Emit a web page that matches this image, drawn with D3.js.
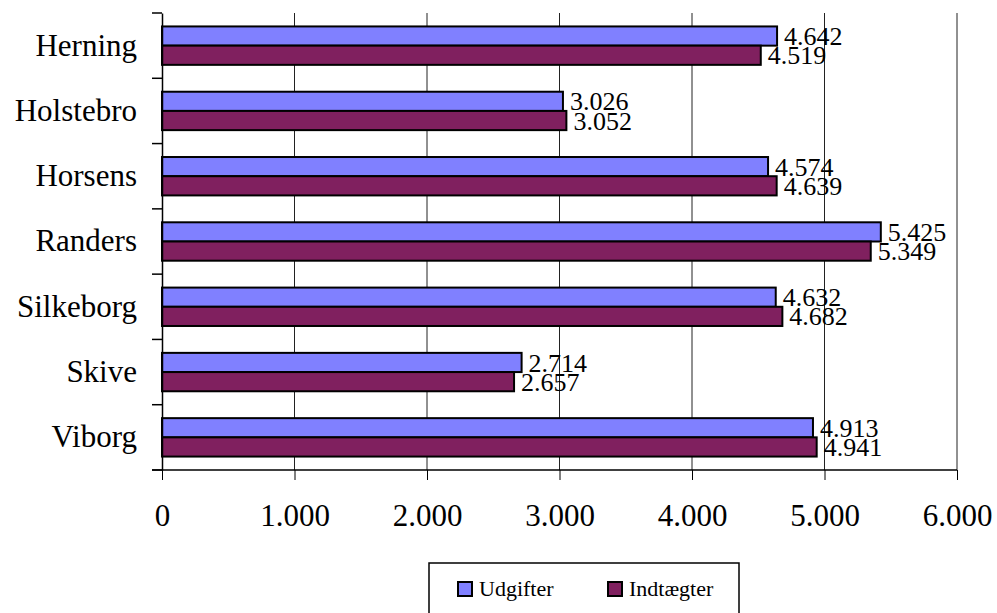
<!DOCTYPE html>
<html>
<head>
<meta charset="utf-8">
<script src="https://cdn.jsdelivr.net/npm/d3@7"></script>
<style>
  body { margin: 0; background: #fff; }
  svg { display: block; font-family: "Liberation Serif", "Times New Roman", serif; }
</style>
</head>
<body>
<div id="chart"></div>
<script>
var categories = ["Herning", "Holstebro", "Horsens", "Randers", "Silkeborg", "Skive", "Viborg"];
var seriesNames = ["Udgifter", "Indtægter"];
var udgifter = [4642, 3026, 4574, 5425, 4632, 2714, 4913];
var indtaegter = [4519, 3052, 4639, 5349, 4682, 2657, 4941];
var xTicks = [0, 1000, 2000, 3000, 4000, 5000, 6000];
var seriesColors = ["#8080ff", "#80205f"];

var width = 997,
  height = 613;
var margin = { top: 13, right: 40, bottom: 143, left: 162 };
var serif = "'Liberation Serif', 'Times New Roman', serif";

var locale = d3.formatLocale({ decimal: ",", thousands: ".", grouping: [3], currency: ["", ""] });
var fmt = locale.format(",");

var rows = categories.map(function (c, i) {
  return { name: c, values: [udgifter[i], indtaegter[i]] };
});

var svg = d3.select("#chart").append("svg").attr("width", width).attr("height", height);

var x = d3.scaleLinear([0, 6000], [margin.left, 957]);
var y = d3.scaleBand(categories, [margin.top, height - margin.bottom]);
var ySub = d3.scaleBand([0, 1], [0, y.bandwidth()]).paddingOuter(0.7);

// gridlines
svg
  .append("g")
  .selectAll("line")
  .data(xTicks.slice(1))
  .join("line")
  .attr("x1", function (d) { return x(d); })
  .attr("x2", function (d) { return x(d); })
  .attr("y1", margin.top)
  .attr("y2", height - margin.bottom)
  .attr("stroke", "#222")
  .attr("stroke-width", 1);

// bars
var group = svg
  .append("g")
  .selectAll("g")
  .data(rows)
  .join("g")
  .attr("transform", function (d) { return "translate(0," + y(d.name) + ")"; });

group
  .selectAll("rect")
  .data(function (d) { return d.values; })
  .join("rect")
  .attr("x", x(0))
  .attr("y", function (d, i) { return ySub(i); })
  .attr("width", function (d) { return x(d) - x(0); })
  .attr("height", ySub.bandwidth())
  .attr("fill", function (d, i) { return seriesColors[i]; })
  .attr("stroke", "#000")
  .attr("stroke-width", 2);

group
  .selectAll("text")
  .data(function (d) { return d.values; })
  .join("text")
  .attr("x", function (d) { return x(d) + 7; })
  .attr("y", function (d, i) { return ySub(i) + ySub.bandwidth() / 2; })
  .attr("dy", "0.35em")
  .attr("font-size", 26)
  .text(function (d) { return fmt(d); });

// y axis
var yAxis = d3
  .axisLeft(y)
  .tickSize(0)
  .tickPadding(25);
svg
  .append("g")
  .attr("transform", "translate(" + margin.left + ",0)")
  .call(yAxis)
  .attr("font-family", serif)
  .attr("font-size", 31)
  .call(function (g) {
    g.select(".domain").attr("stroke", "#000").attr("stroke-width", 1.5);
    g.selectAll("text").attr("fill", "#000").attr("dy", "0.32em");
  });

// category separator ticks
svg
  .append("g")
  .selectAll("line")
  .data(categories.concat(["end"]))
  .join("line")
  .attr("x1", margin.left - 10)
  .attr("x2", margin.left)
  .attr("y1", function (d, i) { return margin.top + i * y.step(); })
  .attr("y2", function (d, i) { return margin.top + i * y.step(); })
  .attr("stroke", "#000")
  .attr("stroke-width", 1.5);

// x axis
var xAxis = d3
  .axisBottom(x)
  .tickValues(xTicks)
  .tickSize(10)
  .tickPadding(24)
  .tickFormat(fmt);
svg
  .append("g")
  .attr("transform", "translate(0," + (height - margin.bottom) + ")")
  .call(xAxis)
  .attr("font-family", serif)
  .attr("font-size", 31)
  .call(function (g) {
    g.select(".domain").attr("d", "M" + (margin.left - 10) + ",0H" + x(6000)).attr("stroke", "#000").attr("stroke-width", 1.5);
    g.selectAll("line").attr("stroke", "#000");
    g.selectAll("text").attr("fill", "#000");
  });

// legend
var legend = svg.append("g").attr("transform", "translate(429,563)");
legend
  .append("rect")
  .attr("width", 310)
  .attr("height", 70)
  .attr("fill", "#fff")
  .attr("stroke", "#000")
  .attr("stroke-width", 1.5);
var item = legend
  .selectAll("g")
  .data(seriesNames)
  .join("g")
  .attr("transform", function (d, i) { return "translate(" + (29 + i * 150) + ",0)"; });
item
  .append("rect")
  .attr("y", 19)
  .attr("width", 14)
  .attr("height", 14)
  .attr("fill", function (d, i) { return seriesColors[i]; })
  .attr("stroke", "#000")
  .attr("stroke-width", 2);
item
  .append("text")
  .attr("x", 21)
  .attr("y", 33)
  .attr("font-size", 22)
  .text(function (d) { return d; });
</script>
</body>
</html>
